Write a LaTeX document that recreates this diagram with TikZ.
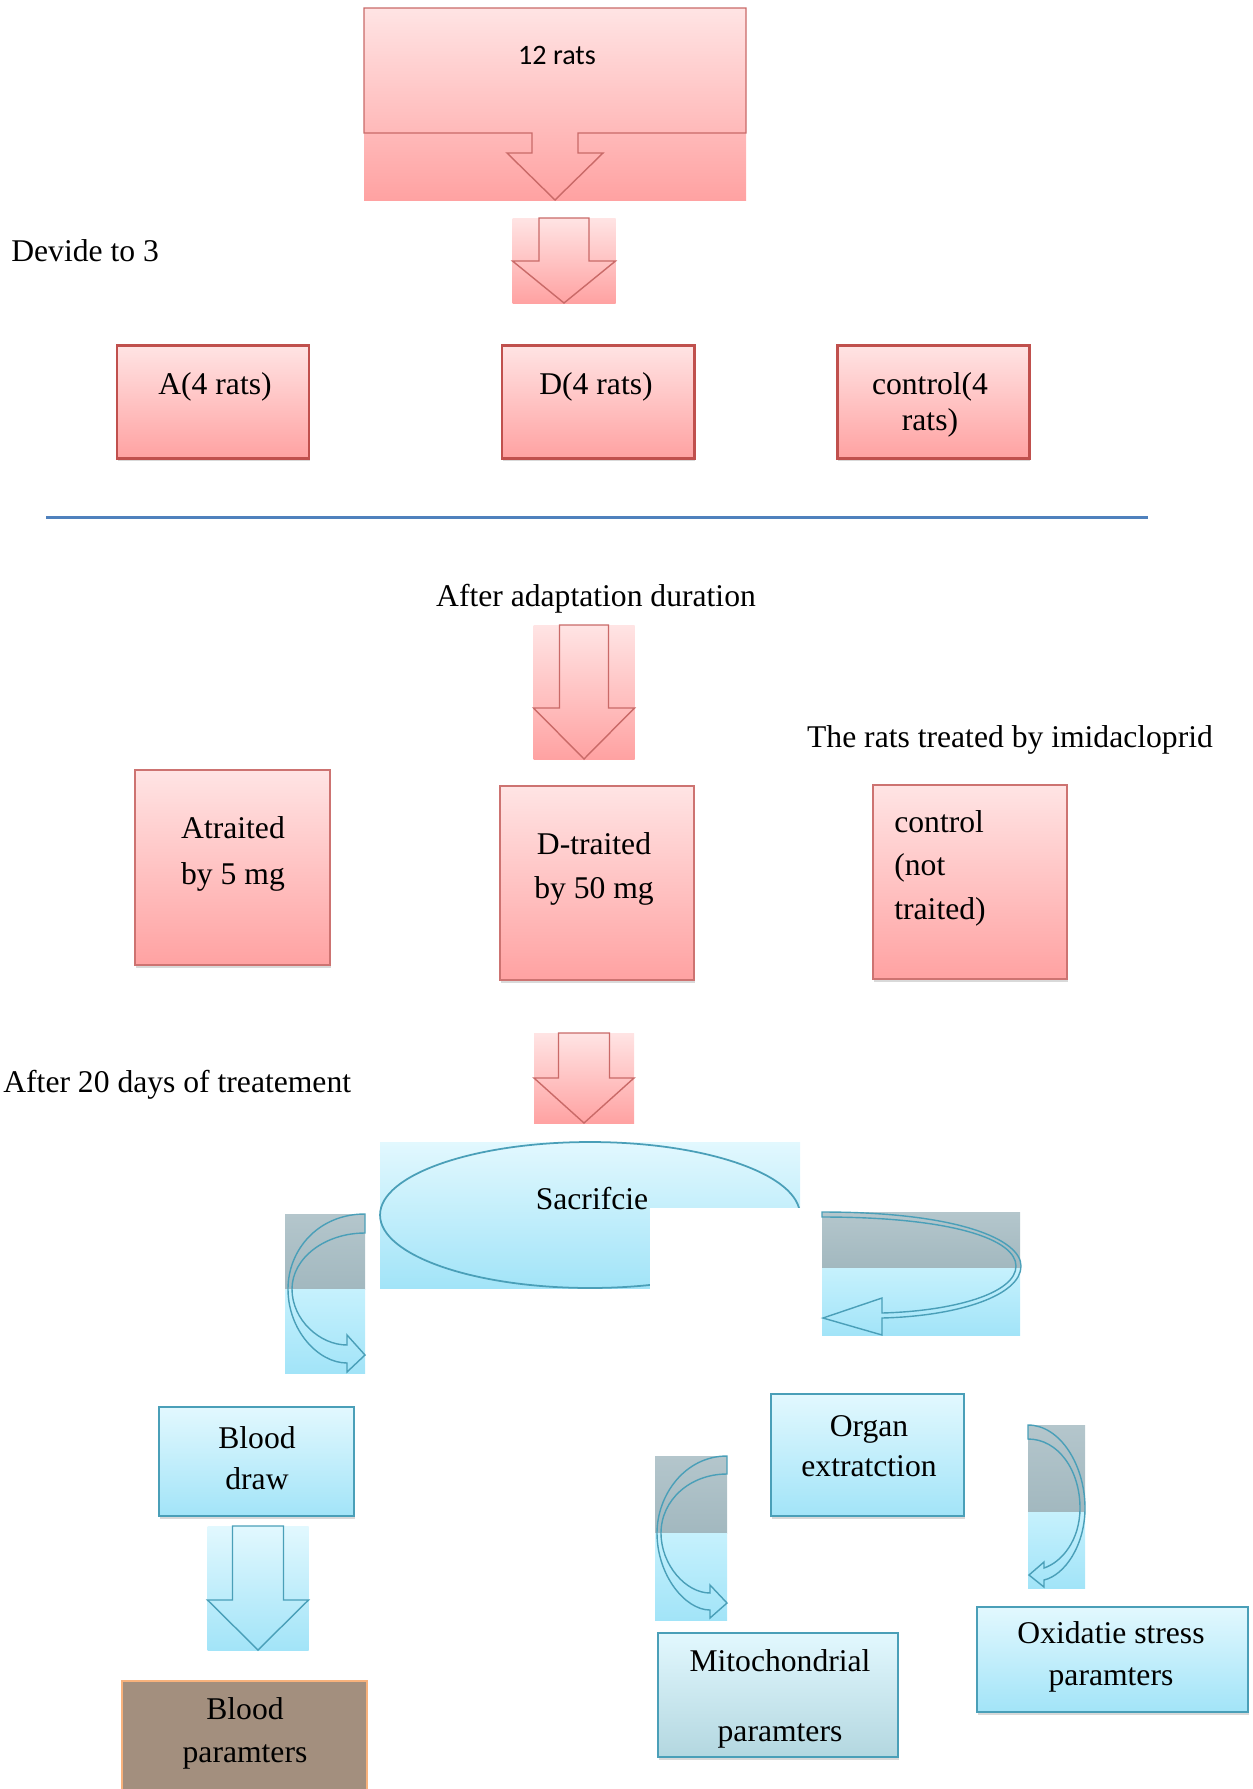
\documentclass[tikz,border=0pt]{standalone}
\usepackage{fontspec}
\setmainfont{Liberation Serif}
\newfontfamily\calibrifont{Carlito}
\usetikzlibrary{shapes.geometric,fit,shadows}

\definecolor{pinkTop}{HTML}{FFE4E4}
\definecolor{pinkBot}{HTML}{FFA2A2}
\definecolor{redLine}{HTML}{C0504D}
\definecolor{cyanTop}{HTML}{E2F8FE}
\definecolor{cyanMid}{HTML}{C6F1FD}
\definecolor{cyanBot}{HTML}{A2E4F8}
\definecolor{cyanLine}{HTML}{4A9FB8}
\definecolor{grayTop}{HTML}{B4C6CC}
\definecolor{grayBot}{HTML}{A2B8BF}
\definecolor{ruleBlue}{HTML}{4F81BD}
\definecolor{brownFill}{HTML}{A38F7E}
\definecolor{orangeLine}{HTML}{F8B27C}
\definecolor{mitoBot}{HTML}{B3D7E0}

\tikzset{
  pinkfade/.style={top color=pinkTop, bottom color=pinkBot},
  cyanfade/.style={top color=cyanTop, bottom color=cyanBot},
  groupbox/.style={
    draw=redLine,
    line width=1.7pt,
    pinkfade,
    inner sep=0pt,
    drop shadow={shadow xshift=0.6pt, shadow yshift=-1.6pt, opacity=0.3}
  },
  treatbox/.style={
    groupbox,
    draw=redLine!80,
    line width=0.9pt
  },
  stepbox/.style={
    draw=cyanLine,
    line width=1.1pt,
    cyanfade,
    inner sep=0pt,
    drop shadow={shadow xshift=0.6pt, shadow yshift=-1.6pt, opacity=0.3}
  },
  lbl/.style={
    inner sep=0pt,
    align=center,
    font=\fontsize{18}{24}\selectfont
  },
  bandarrow/.style={
    draw=cyanLine,
    line width=0.8pt
  }
}

% block arrow pointing down, with its shaded backing
\newcommand{\downblock}[8]{%
  \shade[#1] ({#2-#3},#5) rectangle ({#2+#3},#7);
  \draw[#8, line width=0.8pt] ({#2-#4},#5) -- ({#2+#4},#5) -- ({#2+#4},#6)
    -- ({#2+#3},#6) -- (#2,#7) -- ({#2-#3},#6) -- ({#2-#4},#6) -- cycle;
}
% grey/cyan backing of a curved arrow
\newcommand{\curveback}[5]{%
  \shade[top color=grayTop, bottom color=grayBot] (#1,#3) rectangle (#2,#4);
  \shade[top color=cyanMid, bottom color=cyanBot] (#1,#4) rectangle (#2,#5);
}

\begin{document}
\begin{tikzpicture}[x=0.02cm,y=-0.02cm]
  \useasboundingbox (0,0) rectangle (1253,1789);

  % start block
  \shade[pinkfade] (364,8) rectangle (746,200);
  \draw[redLine!85, line width=0.8pt] (364,8) -- (746,8) -- (746,133) -- (578,133)
    -- (578,153) -- (603,153) -- (555,200) -- (507,153) -- (532,153) -- (532,133)
    -- (364,133) -- cycle;
  \node[lbl, font=\calibrifont\fontsize{16}{19}\selectfont] (txtStart) at (557,55) {12 rats};

  \downblock{pinkfade}{564}{51.5}{25}{218}{261}{303}{redLine!85}
  \node[lbl, anchor=west] (txtDivide) at (11,251) {Devide to 3};

  % three groups
  \node[groupbox, fit={(117,345) (309,458)}] (grpA) {};
  \node[groupbox, fit={(502,345) (694,458)}] (grpD) {};
  \node[groupbox, fit={(837,345) (1029,458)}] (grpC) {};
  \node[lbl] (txtA) at (215,387) {A(4 rats)};
  \node[lbl] (txtD) at (596,387) {D(4 rats)};
  \node[lbl, font=\fontsize{18}{20.5}\selectfont] (txtC) at (930,405) {control(4\\rats)};

  \coordinate (ruleL) at (46,517);
  \coordinate (ruleR) at (1148,517);
  \draw[ruleBlue, line width=1.7pt] (ruleL) -- (ruleR);

  \node[lbl] (txtAdapt) at (596,599) {After adaptation duration};
  \downblock{pinkfade}{584}{50.5}{24.5}{625}{708}{759}{redLine!85}
  \node[lbl] (txtTreated) at (1010,740) {The rats treated by imidacloprid};

  % treatment boxes
  \node[treatbox, fit={(135,770) (330,965)}] (trtA) {};
  \node[treatbox, fit={(500,786) (694,980)}] (trtD) {};
  \node[treatbox, fit={(873,785) (1067,979)}] (trtC) {};
  \node[lbl, font=\fontsize{18}{26}\selectfont] (txtAtr) at (233,854) {Atraited\\by 5 mg};
  \node[lbl, font=\fontsize{18}{25.5}\selectfont] (txtDtr) at (594,869) {D-traited\\by 50 mg};
  \node[lbl, align=left, anchor=west, font=\fontsize{18}{24.7}\selectfont] (txtCtr) at (894,868) {control\\(not\\traited)};

  \node[lbl, anchor=west] (txtDays) at (3,1085) {After 20 days of treatement};
  \downblock{pinkfade}{584}{50}{25.5}{1033}{1078}{1123}{redLine!85}

  % sacrifice
  \shade[cyanfade] (380,1142) rectangle (800,1288);
  \node[draw=cyanLine, line width=1pt, ellipse, minimum width=8.4cm, minimum height=2.92cm,
    inner sep=0pt] (sacr) at (590,1215) {};
  \fill[white] (650,1208) rectangle (802,1300);
  \node[lbl] (txtSac) at (592,1199) {Sacrifcie};

  % curved arrows
  \curveback{285}{365}{1214}{1289}{1373}
  \draw[bandarrow] (365,1214) .. controls (318,1214) and (288,1250) .. (288,1289)
    .. controls (288,1330) and (318,1363) .. (347,1363) -- (347,1372) -- (365,1355)
    -- (347,1335) -- (347,1345) .. controls (320,1345) and (292,1320) .. (292,1289)
    .. controls (292,1258) and (325,1233) .. (365,1233) -- cycle;

  \curveback{822}{1020}{1212}{1268}{1335}
  \draw[bandarrow] (822,1212) .. controls (960,1212) and (1021,1240) .. (1021,1266)
    .. controls (1021,1295) and (960,1316) .. (882,1318) -- (882,1335) -- (823,1318)
    -- (882,1298) -- (882,1313) .. controls (955,1311) and (1016,1293) .. (1016,1266)
    .. controls (1016,1240) and (955,1217) .. (822,1217) -- cycle;

  \curveback{655}{727}{1456}{1533}{1620}
  \draw[bandarrow] (727,1456) .. controls (685,1456) and (657,1495) .. (657,1533)
    .. controls (657,1575) and (685,1610) .. (710,1610) -- (710,1618) -- (727,1603)
    -- (710,1585) -- (710,1593) .. controls (686,1593) and (661,1565) .. (661,1533)
    .. controls (661,1500) and (690,1474) .. (727,1474) -- cycle;

  \curveback{1028}{1085}{1425}{1512}{1588}
  \draw[bandarrow] (1028,1425) .. controls (1060,1425) and (1085,1465) .. (1085,1508)
    .. controls (1085,1545) and (1065,1575) .. (1044,1580) -- (1044,1587) -- (1029,1575)
    -- (1044,1562) -- (1044,1568) .. controls (1062,1562) and (1080,1540) .. (1080,1508)
    .. controls (1080,1470) and (1058,1439) .. (1028,1439) -- cycle;

  % outcome boxes
  \node[stepbox, fit={(159,1407) (354,1516)}] (blood) {};
  \node[lbl, font=\fontsize{18}{23.3}\selectfont] (txtBlood) at (257,1458) {Blood\\draw};
  \downblock{cyanfade}{258}{50.5}{25.5}{1526}{1600}{1650}{cyanLine}
  \node[draw=orangeLine, line width=1.2pt, fill=brownFill, inner sep=0pt,
    fit={(122,1681) (367,1800)}] (bpar) {};
  \node[lbl, font=\fontsize{18}{24.4}\selectfont] (txtBpar) at (245,1733) {Blood\\paramters};

  \node[stepbox, fit={(771,1394) (964,1516)}] (organ) {};
  \node[lbl, font=\fontsize{18}{22.7}\selectfont] (txtOrgan) at (869,1446) {Organ\\extratction};

  \node[stepbox, top color=cyanTop, middle color=white, bottom color=mitoBot,
    fit={(658,1633) (898,1757)}] (mito) {};
  \node[lbl, font=\fontsize{18}{20}\selectfont] (txtMito) at (780,1699) {Mitochondrial\\[0.7cm]paramters};

  \node[stepbox, fit={(977,1607) (1248,1712)}] (oxi) {};
  \node[lbl, font=\fontsize{18}{23.9}\selectfont] (txtOxi) at (1111,1657) {Oxidatie stress\\paramters};
\end{tikzpicture}
\end{document}
